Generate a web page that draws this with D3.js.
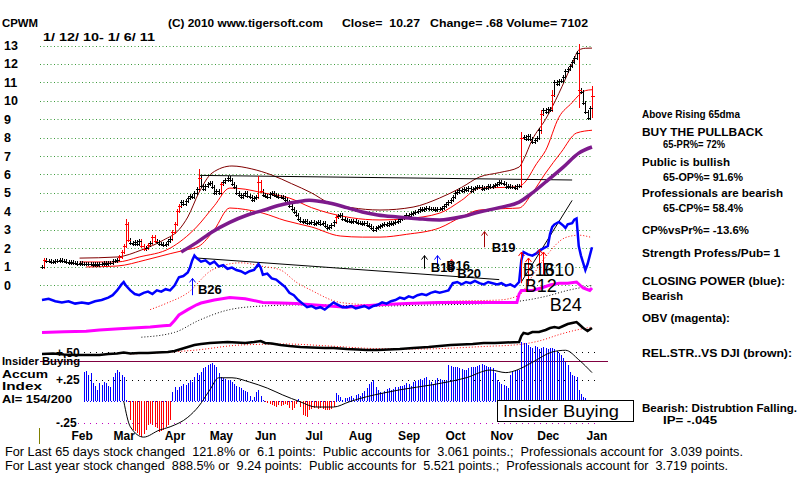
<!DOCTYPE html>
<html>
<head>
<meta charset="utf-8">
<script src="https://cdn.jsdelivr.net/npm/d3@7"></script>
<style>
body { margin: 0; background: #fff; }
svg { display: block; }
text { font-family: "Liberation Sans", Arial, sans-serif; white-space: pre; }
</style>
</head>
<body>
<div id="chart"></div>
<script>
// ---- data (trading-day index 0 = 1/12/10) ----
var closes = [
  1.00, 1.35, 1.28, 1.30, 1.25, 1.27, 1.30, 1.32, 1.35, 1.30,
  1.28, 1.25, 1.22, 1.24, 1.20, 1.18, 1.15, 1.17, 1.14, 1.13,
  1.12, 1.14, 1.12, 1.10, 1.12, 1.11, 1.12, 1.15, 1.18, 1.16,
  1.20, 1.22, 1.28, 1.30, 1.35, 1.50, 1.80, 2.10, 3.30, 2.45,
  2.30, 2.20, 2.35, 2.25, 2.40, 2.10, 1.95, 2.00, 2.15, 2.30,
  2.60, 2.40, 2.35, 2.20, 2.25, 2.15, 2.25, 2.40, 2.50, 2.90,
  3.30, 4.00, 4.30, 4.50, 4.40, 4.55, 4.70, 4.85, 4.80, 5.00,
  5.20, 5.80, 5.40, 5.20, 5.35, 5.50, 5.55, 5.30, 5.00, 5.10,
  5.00, 5.50, 5.60, 5.70, 5.80, 5.70, 5.50, 5.30, 5.00, 4.90,
  4.80, 4.90, 5.00, 4.85, 4.80, 4.60, 4.70, 4.80, 5.60, 5.10,
  4.90, 4.85, 4.80, 4.95, 5.00, 4.90, 4.85, 4.80, 4.80, 4.70,
  4.60, 4.50, 4.30, 4.10, 3.95, 3.80, 3.60, 3.50, 3.40, 3.45,
  3.35, 3.35, 3.40, 3.30, 3.35, 3.40, 3.30, 3.35, 3.20, 3.10,
  3.15, 3.25, 3.40, 3.70, 3.75, 3.80, 3.60, 3.55, 3.50, 3.45,
  3.40, 3.45, 3.40, 3.35, 3.35, 3.30, 3.35, 3.25, 3.20, 3.10,
  3.00, 3.10, 3.15, 3.20, 3.25, 3.30, 3.25, 3.35, 3.30, 3.35,
  3.40, 3.45, 3.60, 3.65, 3.70, 3.80, 3.75, 3.85, 3.90, 3.95,
  4.00, 4.10, 4.05, 4.15, 4.20, 4.15, 4.10, 4.10, 4.05, 4.10,
  4.10, 4.20, 4.30, 4.40, 4.50, 4.60, 4.80, 5.00, 5.05, 5.15,
  5.10, 5.20, 5.15, 5.25, 5.10, 5.20, 5.25, 5.30, 5.30, 5.20,
  5.25, 5.25, 5.35, 5.30, 5.40, 5.45, 5.50, 5.60, 5.55, 5.50,
  5.30, 5.35, 5.30, 5.30, 5.25, 5.35, 5.40, 8.00, 8.05, 7.95,
  8.10, 7.90, 7.75, 7.85, 8.00, 8.40, 9.30, 9.50, 9.40, 9.55,
  9.50, 10.30, 11.00, 10.90, 11.05, 11.10, 11.30, 11.60, 11.70, 11.90,
  12.10, 12.30, 12.60, 10.60, 10.50, 9.90, 9.40, 9.05, 9.59, 10.27
];
// [index, high, low] for the bars with long tails
var extremes = [[1, 1.38, 0.98], [38, 3.45, 2.3], [71, 6.2, 5.2], [98, 5.8, 4.8],
  [217, 8.2, 5.4], [226, 9.4, 8.3], [231, 10.5, 9.6], [243, 13.0, 9.7], [249, 10.7, 9.2]];

var priceTicks = [0, 1, 2, 3, 4, 5, 6, 7, 8, 9, 10, 11, 12, 13];
var monthStarts = [13, 32, 55, 76, 96, 118, 139, 161, 182, 203, 224, 246];
var monthNames = ["Feb", "Mar", "Apr", "May", "Jun", "Jul", "Aug", "Sep", "Oct", "Nov", "Dec", "Jan"];

var maroonBand = [[17, 1.46], [34, 1.52], [45, 1.9], [55, 2.44], [62, 3.0], [66, 3.69], [71, 5.0],
  [77, 6.08], [86, 6.46], [95, 6.3], [104, 5.97], [113, 5.5], [122, 5.0], [130, 4.45], [140, 4.2],
  [153, 4.07], [168, 4.23], [180, 4.72], [190, 5.3], [198, 5.86], [207, 6.1], [216, 6.4], [218, 6.8],
  [222, 7.9], [228, 9.0], [234, 10.4], [240, 12.0], [243, 12.75], [246, 12.85], [249, 12.86]];
var redUpper = [[17, 1.25], [34, 1.25], [44, 1.52], [58, 2.0], [70, 3.15], [78, 4.3], [85, 5.26],
  [92, 5.2], [100, 5.0], [112, 4.72], [122, 4.2], [130, 3.9], [140, 3.65], [153, 3.53], [165, 3.6],
  [180, 3.9], [190, 4.6], [198, 5.26], [210, 5.3], [216, 5.35], [218, 5.5], [224, 6.6], [228, 7.3],
  [234, 9.1], [240, 9.9], [243, 10.3], [246, 10.55], [249, 10.6]];
var redLower = [[20, 0.98], [34, 1.03], [47, 1.36], [58, 1.7], [65, 1.9], [71, 2.1], [78, 3.0],
  [85, 4.18], [92, 4.1], [100, 3.9], [110, 3.5], [122, 3.15], [135, 2.66], [145, 2.6], [153, 2.6],
  [165, 2.75], [180, 3.1], [190, 3.7], [198, 4.07], [210, 4.15], [216, 4.18], [222, 5.0], [228, 6.08],
  [235, 7.2], [242, 8.25], [249, 8.4]];
var ma65 = [[63, 1.79], [70, 2.3], [77, 2.88], [85, 3.4], [93, 3.8], [100, 4.05], [108, 4.34],
  [115, 4.5], [121, 4.6], [130, 4.45], [138, 4.2], [145, 3.96], [152, 3.8], [161, 3.69], [170, 3.6],
  [180, 3.53], [190, 3.7], [198, 3.96], [207, 4.2], [216, 4.5], [222, 5.0], [228, 5.59], [236, 6.4],
  [243, 7.16], [249, 7.49]];
var priceTrend = [[71, 5.95], [240, 5.7]];

// closing power (blue), its average, OBV (magenta) and its average
var cpLine = [[0, 25], [3, 26], [6, 24], [9, 23], [12, 24], [15, 22], [18, 23], [21, 22], [24, 24],
  [27, 25], [30, 27], [32, 29], [34, 33], [36, 38], [37, 40], [38, 37], [40, 33], [42, 30], [44, 29],
  [46, 31], [48, 32], [50, 30], [52, 33], [54, 32], [56, 34], [58, 33], [60, 37], [62, 44], [64, 45],
  [66, 48], [67, 52], [68, 58], [69, 62], [70, 60], [72, 57], [74, 58], [76, 55], [78, 57], [80, 53],
  [82, 54], [84, 51], [86, 52], [88, 50], [90, 49], [92, 47], [94, 49], [96, 50], [98, 55], [99, 52],
  [100, 46], [102, 47], [104, 43], [106, 42], [108, 39], [110, 36], [112, 31], [114, 29], [116, 25],
  [118, 22], [120, 19], [122, 20], [124, 18], [126, 19], [128, 17], [130, 20], [132, 23], [134, 21],
  [136, 19], [138, 19], [140, 20], [142, 18], [144, 19], [146, 20], [148, 18], [150, 20], [152, 21],
  [154, 23], [156, 22], [158, 24], [160, 25], [162, 27], [164, 26], [166, 28], [168, 27], [170, 29],
  [172, 30], [174, 29], [176, 31], [178, 32], [180, 31], [182, 32], [184, 33], [186, 39], [188, 40],
  [190, 38], [192, 40], [194, 39], [196, 41], [198, 39], [200, 38], [202, 40], [204, 39], [206, 38],
  [208, 39], [210, 37], [212, 38], [214, 36], [216, 40], [217, 58], [218, 65], [220, 63], [222, 62],
  [224, 64], [225, 66], [227, 68], [229, 70], [230, 80], [231, 86], [232, 88], [234, 90], [236, 87],
  [237, 85], [238, 88], [240, 89], [241, 92], [242, 93], [243, 70], [244, 62], [246, 50], [247, 55],
  [249, 69]];
var cpMA = [[49, 17], [56, 22], [66, 31], [77, 50], [90, 56], [100, 53], [108, 50], [115, 40],
  [122, 33], [135, 23], [150, 21], [165, 22], [185, 24], [207, 25], [216, 29], [222, 45], [228, 61],
  [237, 77], [243, 79], [249, 77]];
var obvLine = [[0, -2], [10, -1.5], [20, -1], [26, 0], [35, 1], [45, 2], [49, 2.5], [55, 3.5],
  [58, 4], [60, 8], [62, 12.5], [66, 17], [70, 21], [72, 22.5], [78, 25], [85, 27], [92, 26],
  [100, 23], [108, 22.5], [115, 22], [122, 21], [130, 20], [138, 19], [145, 20], [153, 21], [165, 22],
  [180, 23], [195, 23], [207, 23], [215, 23], [216, 30], [217, 33], [222, 33], [226, 35], [230, 37.5],
  [234, 39], [238, 39], [242, 40], [245, 35], [248, 33], [249, 35]];
var obvMA = [[45, -6], [60, -2], [71, 8], [85, 17], [100, 20], [120, 21], [150, 20], [180, 21],
  [200, 22], [216, 24], [228, 28], [238, 33], [249, 37]];
var cpTrend1 = [[70, 60], [207, 42]];
var cpTrend2 = [[217, 40], [240, 108]];

// relative strength vs DJI and its average
var rsLine = [[0, 12], [5, 13], [10, 11], [15, 10], [20, 10], [26, 10], [30, 12], [34, 13], [37, 15],
  [40, 13], [44, 14], [48, 14], [52, 15], [57, 16], [60, 18], [63, 22], [66, 26], [69, 30], [72, 32],
  [76, 34], [80, 35], [84, 36], [88, 35], [92, 34], [96, 36], [99, 38], [101, 34], [104, 33], [108, 30],
  [112, 28], [117, 26], [122, 25], [128, 24], [132, 24], [138, 22], [143, 21], [147, 20], [152, 20],
  [157, 21], [162, 22], [168, 24], [175, 26], [180, 28], [185, 30], [190, 31], [195, 32], [200, 34],
  [205, 34], [210, 35], [216, 36], [217, 48], [218, 54], [220, 52], [222, 56], [225, 56], [228, 60],
  [230, 64], [232, 66], [234, 64], [236, 68], [238, 72], [240, 74], [242, 76], [243, 72], [245, 64],
  [247, 58], [249, 64]];
var rsMA = [[40, 12], [70, 20], [90, 30], [110, 32], [130, 28], [150, 23], [170, 22], [200, 27],
  [216, 31], [225, 38], [235, 52], [242, 60], [249, 66]];

// accumulation index, one value per day from aiStart
var aiStart = 19;
var aiValues = [
  0.34, 0.35, 0.30, 0.33, 0.21, 0.17, 0.13, 0.21, 0.19, 0.22,
  0.21, 0.18, 0.16, 0.28, 0.33, 0.36, 0.34, 0.30, 0.28, 0.01,
  -0.01, -0.22, -0.34, -0.35, -0.37, -0.40, -0.42, -0.38, -0.34, -0.28,
  -0.26, -0.28, -0.30, -0.31, -0.36, -0.35, -0.34, -0.30, -0.28, -0.22,
  0.10, 0.16, 0.13, 0.16, 0.18, 0.20, 0.19, 0.21, 0.24, 0.22,
  0.28, 0.33, 0.30, 0.34, 0.38, 0.40, 0.42, 0.43, 0.44, 0.42,
  0.40, 0.33, 0.28, 0.27, 0.26, 0.24, 0.24, 0.22, 0.20, 0.18,
  0.16, 0.15, 0.13, 0.12, 0.10, 0.06, 0.01, 0.05, 0.10, 0.13,
  0.06, 0.01, -0.01, -0.02, -0.04, -0.05, -0.06, -0.07, -0.05, -0.06,
  -0.05, -0.04, -0.05, -0.08, -0.10, -0.08, -0.04, 0.02, -0.07, -0.16,
  -0.18, -0.19, -0.10, -0.09, -0.08, -0.07, -0.09, -0.08, -0.09, -0.10,
  -0.10, -0.10, -0.09, -0.07, 0.09, 0.07, 0.05, 0.01, 0.03, 0.04,
  0.05, 0.06, 0.04, 0.07, 0.08, 0.06, 0.09, 0.12, 0.15, 0.20,
  0.22, 0.24, 0.16, 0.13, 0.11, 0.09, 0.12, 0.14, 0.15, 0.13,
  0.14, 0.16, 0.16, 0.18, 0.17, 0.19, 0.21, 0.20, 0.18, 0.22,
  0.23, 0.24, 0.26, 0.25, 0.27, 0.28, 0.25, 0.22, 0.20, 0.24,
  0.27, 0.26, 0.24, 0.23, 0.24, 0.42, 0.41, 0.40, 0.39, 0.40,
  0.38, 0.37, 0.36, 0.36, 0.38, 0.39, 0.40, 0.40, 0.41, 0.42,
  0.43, 0.42, 0.41, 0.40, 0.40, 0.38, 0.32, 0.24, 0.22, 0.20,
  0.19, 0.17, 0.15, 0.30, 0.34, 0.35, 0.36, 0.36, 0.69, 0.68,
  0.67, 0.65, 0.63, 0.62, 0.64, 0.63, 0.61, 0.62, 0.63, 0.62,
  0.61, 0.62, 0.62, 0.60, 0.58, 0.56, 0.54, 0.50, 0.45, 0.42,
  0.34, 0.30, 0.29, 0.28, 0.13, 0.08, 0.05, 0.03
];
var aiMA = [[37, 0.0], [40, -0.30], [46, -0.42], [53, -0.34], [58, -0.30], [66, -0.19], [71, -0.06],
  [76, 0.13], [80, 0.27], [86, 0.27], [94, 0.22], [102, 0.15], [109, 0.07], [117, -0.01], [124, -0.07],
  [132, -0.07], [139, -0.01], [147, 0.05], [154, 0.09], [162, 0.13], [177, 0.19], [192, 0.27],
  [203, 0.36], [210, 0.33], [215, 0.36], [222, 0.45], [231, 0.57], [237, 0.59], [243, 0.48], [249, 0.33]];
var aiTicks = [0.5, 0.25, -0.25];
var aiTickLabels = ["+.50", "+.25", "-.25"];
var aiThreshold = 0.47;

// signals: arrows [index, from, to] in closing-power units, labels [text, index, level]
var sigArrows = [[68, 29, 43, "#0000ff"], [173, 51, 62, "#000000"], [179, 51, 62, "#0000ff"],
  [185, 48, 59, "#ff4040"], [200, 69, 82, "#a00000"], [217, 39, 65, "#ff0000"],
  [220, 37, 60, "#ff0000"], [225, 50, 67, "#ff0000"], [227, 46, 65, "#ff0000"]];
var sigSmall = [["B26", 70.6, 30], ["B18", 176, 48], ["B16", 183, 50], ["B20", 188, 43], ["B19", 203.6, 65]];
var sigBig = [["B16", 217.6, 45], ["B10", 226.5, 45], ["B12", 218.5, 31.5], ["B24", 229.9, 16]];

// ---- layout ----
var svg = d3.select("#chart").append("svg").attr("width", 800).attr("height", 478);

var x = d3.scaleLinear().domain([0, 249]).range([42, 592]);
var yP = d3.scaleLinear().domain([0, 13]).range([285, 45.5]);
var yCP = d3.scaleLinear().domain([0, 100]).range([330, 210]);
var yRS = d3.scaleLinear().domain([0, 100]).range([360, 310]);
var yAI = d3.scaleLinear().domain([-0.25, 0.25]).range([422.5, 379.5]);

function lineOn(ys, curve) {
    return d3.line().x(function(d) { return x(d[0]) }).y(function(d) { return ys(d[1]) })
        .curve(curve || d3.curveLinear)
}
function path(data, ys, color, width, dash, curve) {
    var p = svg.append("path").datum(data).attr("d", lineOn(ys, curve)(data))
        .attr("fill", "none").attr("stroke", color).attr("stroke-width", width)
    if (dash) p.attr("stroke-dasharray", dash)
    return p
}

// price grid
svg.append("g").selectAll("line").data(priceTicks).join("line")
    .attr("x1", 40).attr("x2", 592)
    .attr("y1", function(d) { return Math.round(yP(d)) + 0.5 })
    .attr("y2", function(d) { return Math.round(yP(d)) + 0.5 })
    .attr("stroke", "#3c9a3c").attr("stroke-dasharray", "1,2.5")

var yAxis = svg.append("g").attr("transform", "translate(0,0)")
    .call(d3.axisRight(yP).tickValues(priceTicks).tickSize(0).tickPadding(4))
yAxis.select(".domain").remove()
yAxis.selectAll("text").attr("font-size", 12.5).attr("font-weight", "bold")
    .attr("font-family", "Liberation Sans, Arial, sans-serif").attr("fill", "#000")

// price bands
path(maroonBand, yP, "#800000", 1, null, d3.curveMonotoneX)
path(redUpper, yP, "#ff0000", 1, null, d3.curveMonotoneX)
path(redLower, yP, "#ff0000", 1, null, d3.curveMonotoneX)
path(priceTrend, yP, "#000", 1)

// price bars
var bars = closes.map(function(c, i) {
    var p = i > 0 ? closes[i - 1] : c
    var hi = Math.max(p, c), lo = Math.min(p, c)
    extremes.forEach(function(e) { if (e[0] === i) { hi = Math.max(hi, e[1]); lo = Math.min(lo, e[2]) } })
    var big = i > 0 && Math.abs(c / p - 1) > 0.07
    return { i: i, c: c, hi: hi, lo: lo, big: big }
})
var gb = svg.append("g").attr("shape-rendering", "crispEdges")
gb.selectAll("line.v").data(bars).join("line").attr("class", "v")
    .attr("x1", function(d) { return Math.round(x(d.i)) + 0.5 })
    .attr("x2", function(d) { return Math.round(x(d.i)) + 0.5 })
    .attr("y1", function(d) { return yP(d.hi) - 2 })
    .attr("y2", function(d) { return yP(d.lo) + 2 })
    .attr("stroke", function(d) { return d.big ? "#ff0000" : "#000" })
gb.selectAll("line.t").data(bars).join("line").attr("class", "t")
    .attr("x1", function(d) { return Math.round(x(d.i)) - 1.5 })
    .attr("x2", function(d) { return Math.round(x(d.i)) + 2.5 })
    .attr("y1", function(d) { return Math.round(yP(d.c)) + 0.5 })
    .attr("y2", function(d) { return Math.round(yP(d.c)) + 0.5 })
    .attr("stroke", function(d) { return d.big ? "#ff0000" : "#000" })

path(ma65, yP, "#7d1a8c", 3.5, null, d3.curveMonotoneX)

// closing power / OBV panel
path(obvMA, yCP, "#000", 1, "1,2", d3.curveMonotoneX)
path(cpMA, yCP, "#ff0000", 1, "1,2", d3.curveMonotoneX)
path(obvLine, yCP, "#ff00ff", 3)
path(cpTrend1, yCP, "#000", 1)
path(cpTrend2, yCP, "#000", 1)
path(cpLine, yCP, "#0000ff", 2.5)

var ga = svg.append("g")
sigArrows.forEach(function(a) {
    var ax = Math.round(x(a[0])) + 0.5, y0 = yCP(a[1]), y1 = yCP(a[2])
    ga.append("path").attr("d", "M" + ax + "," + y0 + "V" + y1 + "M" + (ax - 3) + "," + (y1 + 4) + "L" + ax + "," + y1 + "L" + (ax + 3) + "," + (y1 + 4))
        .attr("fill", "none").attr("stroke", a[3]).attr("stroke-width", 1)
})
svg.append("g").selectAll("text").data(sigSmall).join("text")
    .attr("x", function(d) { return x(d[1]) }).attr("y", function(d) { return yCP(d[2]) })
    .attr("font-size", 13).attr("font-weight", "bold").text(function(d) { return d[0] })
svg.append("g").selectAll("text").data(sigBig).join("text")
    .attr("x", function(d) { return x(d[1]) }).attr("y", function(d) { return yCP(d[2]) })
    .attr("font-size", 18).text(function(d) { return d[0] })

// relative strength panel
path(rsMA, yRS, "#ff0000", 1, "1,2", d3.curveMonotoneX)
path(rsLine, yRS, "#000", 2.5)

// accumulation index panel
var aiGrid = [[aiTicks[0], "#000", "1,5", 84], [aiTicks[1], "#000", "1,5", 84], [0, "#0000ff", "1,2", 84], [aiTicks[2], "#c000c0", "1,5", 78]]
svg.append("g").selectAll("line").data(aiGrid).join("line")
    .attr("x1", function(d) { return d[3] }).attr("x2", 600)
    .attr("y1", function(d, k) { return Math.round(yAI(d[0])) + (k === 0 ? -5.5 : 0.5) })
    .attr("y2", function(d, k) { return Math.round(yAI(d[0])) + (k === 0 ? -5.5 : 0.5) })
    .attr("stroke", function(d) { return d[1] }).attr("stroke-dasharray", function(d) { return d[2] })

svg.append("line").attr("x1", 40).attr("x2", 608)
    .attr("y1", Math.round(yAI(aiThreshold)) + 0.5).attr("y2", Math.round(yAI(aiThreshold)) + 0.5)
    .attr("stroke", "#800040").attr("stroke-width", 1)

svg.append("g").attr("shape-rendering", "crispEdges").selectAll("line").data(aiValues).join("line")
    .attr("x1", function(d, k) { return Math.round(x(aiStart + k)) + 0.5 })
    .attr("x2", function(d, k) { return Math.round(x(aiStart + k)) + 0.5 })
    .attr("y1", yAI(0)).attr("y2", function(d) { return yAI(d) })
    .attr("stroke", function(d) { return d >= 0 ? "#0000ff" : "#ff0000" })
path(aiMA, yAI, "#000", 1, null, d3.curveMonotoneX)

var aiAxis = svg.append("g").attr("transform", "translate(53,0)")
    .call(d3.axisRight(yAI).tickValues(aiTicks).tickSize(0).tickPadding(3)
        .tickFormat(function(d, k) { return aiTickLabels[k] }))
aiAxis.select(".domain").remove()
aiAxis.selectAll("text").attr("font-size", 12).attr("font-weight", "bold")
    .attr("font-family", "Liberation Sans, Arial, sans-serif").attr("fill", "#000")
    .attr("dy", function(d, k) { return k === 0 ? "-0.1em" : "0.32em" })

// month axis
var xAxis = svg.append("g").attr("transform", "translate(11,431)")
    .call(d3.axisBottom(x).tickValues(monthStarts).tickSize(0).tickPadding(0)
        .tickFormat(function(d, k) { return monthNames[k] }))
xAxis.select(".domain").remove()
xAxis.selectAll("text").attr("font-size", 12).attr("font-weight", "bold")
    .attr("font-family", "Liberation Sans, Arial, sans-serif").attr("fill", "#000")

svg.append("line").attr("x1", 39.5).attr("x2", 39.5).attr("y1", 428).attr("y2", 444)
    .attr("stroke", "#808000")

// insider buying box
svg.append("rect").attr("x", 497.5).attr("y", 400.5).attr("width", 136).attr("height", 21)
    .attr("fill", "#fff").attr("stroke", "#000")
svg.append("text").attr("x", 503).attr("y", 417).attr("font-size", 17)
    .attr("textLength", 116).attr("lengthAdjust", "spacingAndGlyphs").text("Insider Buying")

// ---- texts: [text, x, baseline, width, bold] ----
var notes = [
    ["CPWM", 2, 27, 36, 1],
    ["(C) 2010 www.tigersoft.com", 168, 27, 155, 1],
    ["Close=  10.27", 342, 27, 78, 1],
    ["Change= .68 Volume= 7102", 430, 27, 158, 1],
    ["1/ 12/ 10- 1/ 6/ 11", 43, 41, 112, 1],
    ["Above Rising 65dma", 642, 118, 98, 1],
    ["BUY THE PULLBACK", 642, 136, 121, 1],
    ["65-PR%= 72%", 663, 148, 62, 1],
    ["Public is bullish", 642, 166, 88, 1],
    ["65-OP%= 91.6%", 663, 181, 80, 1],
    ["Professionals are bearish", 642, 197, 141, 1],
    ["65-CP%= 58.4%", 663, 212, 80, 1],
    ["CP%vsPr%= -13.6%", 642, 234, 107, 1],
    ["Strength Profess/Pub= 1", 642, 257, 138, 1],
    ["CLOSING POWER (blue):", 642, 285, 143, 1],
    ["Bearish", 642, 300, 41, 1],
    ["OBV (magenta):", 642, 322, 88, 1],
    ["REL.STR..VS DJI (brown):", 642, 357, 150, 1],
    ["Bearish: Distrubtion Falling.", 642, 412, 155, 1],
    ["IP= -.045", 663, 424, 54, 1],
    ["Insider Buying", 2, 365, 78, 1],
    ["Accum", 2, 378, 46, 1],
    ["Index", 2, 390, 40, 1],
    ["AI= 154/200", 2, 403, 70, 1],
    ["For Last 65 days stock changed  121.8% or  6.1 points:  Public accounts for  3.061 points.;  Professionals account for  3.039 points.", 5, 456, 738, 0],
    ["For Last year stock changed  888.5% or  9.24 points:  Public accounts for  5.521 points.;  Professionals account for  3.719 points.", 5, 470, 723, 0]
]
svg.append("g").selectAll("text").data(notes).join("text")
    .attr("x", function(d) { return d[1] }).attr("y", function(d) { return d[2] })
    .attr("xml:space", "preserve")
    .attr("font-size", function(d) { return d[4] ? 11.5 : 12 })
    .attr("font-weight", function(d) { return d[4] ? "bold" : "normal" })
    .attr("textLength", function(d) { return d[3] }).attr("lengthAdjust", "spacingAndGlyphs")
    .text(function(d) { return d[0] })
</script>
</body>
</html>
